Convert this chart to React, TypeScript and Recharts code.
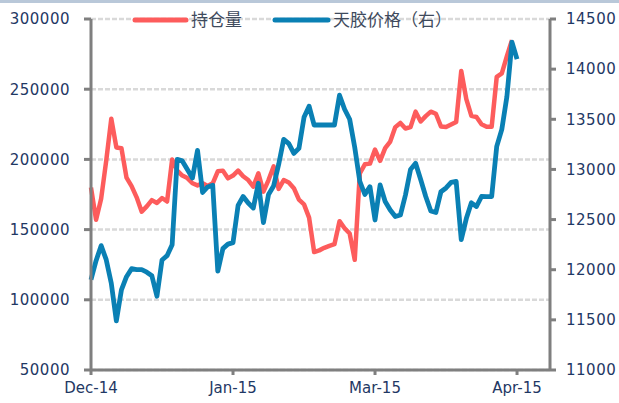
import { CartesianGrid, Line, LineChart, XAxis, YAxis } from 'recharts'

// category index of each labelled month, and its label
const xTickIdx = [0, 28, 56, 84]
const xTickLabels = ['Dec-14', 'Jan-15', 'Mar-15', 'Apr-15']

const leftTicks = [50000, 100000, 150000, 200000, 250000, 300000]
const rightTicks = [11000, 11500, 12000, 12500, 13000, 13500, 14000, 14500]

// 持仓量 (left axis)
const openInterest = [
  180000, 157000, 172000, 199000, 229000, 208500, 208000, 187000, 181000, 173000,
  162800, 166500, 171000, 169000, 172500, 170000, 200000, 192000, 188500, 186700,
  183000, 181500, 183000, 181000, 183000, 191500, 192000, 186500, 188500, 192000,
  188000, 185300, 180600, 190100, 177000, 185300, 195000, 179000, 185300, 183500,
  179500, 171300, 168000, 158500, 134000, 135200, 137000, 138400, 139600, 156000,
  151000, 147200, 128500, 190000, 196500, 197000, 207000, 199000, 208000, 212700,
  223000, 226000, 222000, 223000, 234000, 227000, 230800, 234000, 232500, 223500,
  223100, 224900, 226700, 263000, 243000, 231000, 230200, 225000, 223300, 223300,
  258800, 261300, 273500, 285000,
]

// 天胶价格 (right axis)
const rubberPrice = [
  11900, 12090, 12240, 12100, 11865, 11490, 11800, 11930, 12010, 12000,
  12000, 11975, 11940, 11735, 12097, 12140, 12250, 13100, 13085, 13000,
  12915, 13190, 12770, 12825, 12843, 11985, 12210, 12255, 12270, 12640,
  12730, 12665, 12615, 12862, 12470, 12750, 12835, 13050, 13300, 13257,
  13160, 13211, 13520, 13630, 13443, 13443, 13443, 13443, 13443, 13740,
  13600, 13500, 13220, 12880, 12750, 12828, 12496, 12845, 12680, 12595,
  12530, 12545, 12745, 13000, 13061, 12900, 12730, 12585, 12570, 12778,
  12815, 12870, 12880, 12300, 12510, 12667, 12630, 12730, 12728, 12730,
  13230, 13400, 13726, 14270, 14100,
]

const RED = '#fd5c5c'
const BLUE = '#0a80b4'
const AXIS = '#7f7f7f'
const TEXT = '#1f3864'

const rows = rubberPrice.map((price, i) => ({
  i,
  oi: openInterest[i] ?? null,
  price,
}))

const yTickStyle = { fill: TEXT, fontSize: 15, fontFamily: 'DejaVu Sans', letterSpacing: 0.5 }
const xTickStyle = { fill: TEXT, fontSize: 15, fontFamily: 'DejaVu Sans' }

function LegendOverlay() {
  const font = { fontFamily: '"Noto Sans CJK SC", sans-serif', fontSize: 17, fill: '#3e4a5c' }
  return (
    <svg width={619} height={40} style={{ position: 'absolute', left: 0, top: 0 }}>
      <line x1={135} y1={20} x2={186} y2={20} stroke={RED} strokeWidth={5} strokeLinecap="round" />
      <text x={191} y={26} {...font}>持仓量</text>
      <line x1={275} y1={20} x2={328} y2={20} stroke={BLUE} strokeWidth={5} strokeLinecap="round" />
      <text x={333} y={26} {...font}>天胶价格（右）</text>
    </svg>
  )
}

export default function App() {
  return (
    <div
      style={{
        position: 'absolute',
        left: 0,
        top: 0,
        width: 619,
        height: 403,
        background: '#fff',
        fontFamily: 'DejaVu Sans',
      }}
    >
      <div style={{ position: 'absolute', left: 0, top: 0, width: 619, height: 3, background: '#b9c8d9' }} />
      <LineChart
        width={619}
        height={403}
        data={rows}
        margin={{ top: 19, right: 10, bottom: 0, left: 0 }}
      >
        <CartesianGrid
          yAxisId="left"
          vertical={false}
          stroke="#d9d9d9"
          strokeWidth={2.5}
          strokeDasharray="5 2"
        />
        <XAxis
          dataKey="i"
          type="number"
          domain={[0, 90.5]}
          ticks={xTickIdx}
          tickFormatter={(v: number) => xTickLabels[xTickIdx.indexOf(v)] ?? ''}
          height={33}
          stroke={AXIS}
          strokeWidth={3}
          tickSize={5}
          tickMargin={7}
          tick={xTickStyle}
          interval={0}
        />
        <YAxis
          yAxisId="left"
          domain={[50000, 300000]}
          ticks={leftTicks}
          width={91}
          stroke={AXIS}
          strokeWidth={3}
          tickSize={7}
          tickMargin={14}
          tick={yTickStyle}
          interval={0}
        />
        <YAxis
          yAxisId="right"
          orientation="right"
          domain={[11000, 14500]}
          ticks={rightTicks}
          width={59}
          stroke={AXIS}
          strokeWidth={3}
          tickSize={6}
          tickMargin={10}
          tick={yTickStyle}
          interval={0}
        />
        <Line
          yAxisId="left"
          dataKey="oi"
          stroke={RED}
          strokeWidth={4.5}
          strokeLinejoin="round"
          dot={false}
          activeDot={false}
          isAnimationActive={false}
        />
        <Line
          yAxisId="right"
          dataKey="price"
          stroke={BLUE}
          strokeWidth={4.8}
          strokeLinejoin="round"
          dot={false}
          activeDot={false}
          isAnimationActive={false}
        />
      </LineChart>
      <LegendOverlay />
    </div>
  )
}
